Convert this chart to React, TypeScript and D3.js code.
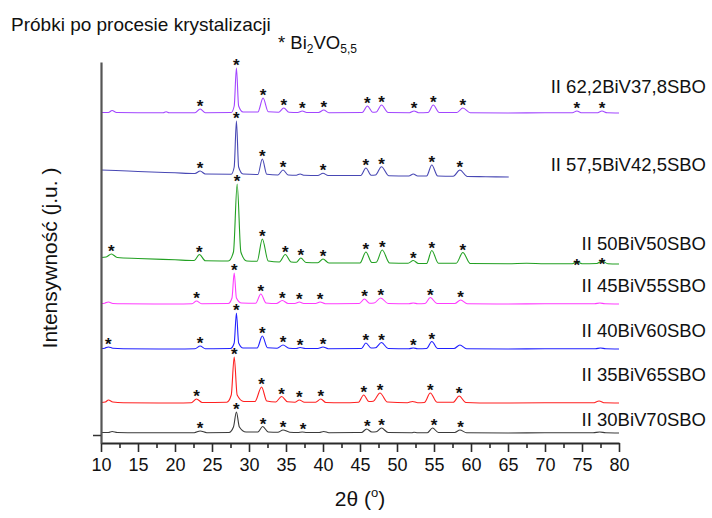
import React, { useEffect, useRef } from "react";
import * as d3 from "d3";

// ---------- data (2θ in degrees, intensity in arbitrary units) ----------
const MAJOR_TICKS = [10, 15, 20, 25, 30, 35, 40, 45, 50, 55, 60, 65, 70, 75, 80];
const MINOR_TICKS = [12.5, 17.5, 22.5, 27.5, 32.5, 37.5, 42.5, 47.5, 52.5, 57.5, 62.5, 67.5, 72.5, 77.5];

const SERIES_LABELS = [
  "II 30BiV70SBO",
  "II 35BiV65SBO",
  "II 40BiV60SBO",
  "II 45BiV55SBO",
  "II 50BiV50SBO",
  "II 57,5BiV42,5SBO",
  "II 62,2BiV37,8SBO",
];
const SERIES_COLORS = ["#3a3a3a", "#ff2020", "#2020ff", "#ff3cff", "#22a022", "#4848b4", "#a246ff"];
const SERIES_OFFSETS = [100, 400, 940, 1390, 1790, 2660, 3300];

const s30: [number, number][] = [
  [10, 5], [11.0, 5], [11.5, 15], [12.2, 5], [15, 3], [20, 3], [22.6, 3], [23.4, 20], [24.3, 3],
  [27.3, 5], [27.9, 60], [28.3, 210], [28.7, 60], [29.6, 10], [31.2, 10], [31.85, 65], [32.6, 10],
  [33.9, 8], [34.6, 30], [35.5, 8], [36.6, 5], [37.2, 10], [37.8, 5], [39.5, 5], [40.1, 15], [40.8, 3],
  [45.2, 5], [45.9, 40], [46.6, 10], [47.2, 12], [47.9, 50], [48.8, 5], [52, 3], [52.3, 8], [52.8, 3],
  [54.1, 3], [54.8, 50], [55.6, 5], [57.8, 5], [58.5, 30], [59.4, 3], [65, 0], [70, 2], [76.5, 2],
  [77.4, 10], [78.2, 2], [80, 0],
];
const s35: [number, number][] = [
  [10, 5], [10.6, 10], [11.0, 30], [11.6, 10], [13, 3], [20, 0], [22.2, 3], [22.9, 40], [23.7, 5],
  [27.0, 8], [27.6, 80], [28.0, 460], [28.4, 80], [29.3, 15], [30.8, 15], [31.7, 160], [32.4, 20],
  [33.6, 10], [34.4, 65], [35.2, 12], [36.2, 8], [36.8, 30], [37.5, 8], [39.0, 8], [39.7, 40], [40.4, 5],
  [42.5, 3], [44.8, 8], [45.5, 80], [46.2, 15], [46.8, 18], [47.7, 100], [48.7, 10], [51.4, 3], [52.1, 15],
  [52.8, 3], [53.7, 5], [54.5, 100], [55.4, 8], [57.6, 8], [58.4, 70], [59.3, 5], [63, 0], [70, 2],
  [76.5, 2], [77.3, 20], [78.1, 2], [80, 0],
];
const s40: [number, number][] = [
  [10, 5], [10.5, 8], [11.0, 20], [11.6, 8], [13, 3], [20, 0], [22.7, 3], [23.4, 30], [24.1, 3],
  [27.5, 5], [28.0, 60], [28.3, 360], [28.6, 60], [29.2, 10], [31.1, 10], [31.8, 130], [32.5, 12],
  [33.8, 8], [34.6, 40], [35.4, 8], [36.4, 5], [36.9, 15], [37.6, 5], [39.3, 5], [40.0, 20], [40.7, 3],
  [45.2, 5], [45.8, 60], [46.5, 10], [47.1, 12], [47.9, 65], [48.8, 5], [51.6, 3], [52.2, 10], [52.8, 3],
  [54.0, 5], [54.7, 75], [55.5, 5], [57.7, 5], [58.5, 40], [59.4, 3], [65, 0], [70, 2], [76.8, 2],
  [77.5, 10], [78.2, 2], [80, 0],
];
const s45: [number, number][] = [
  [10, 5], [10.5, 8], [11.0, 20], [11.6, 5], [13, 2], [20, 0], [22.3, 3], [22.9, 30], [23.6, 3],
  [27.2, 5], [27.7, 60], [28.0, 310], [28.3, 60], [29.0, 10], [30.9, 8], [31.6, 100], [32.3, 10],
  [33.7, 5], [34.5, 35], [35.3, 5], [36.2, 5], [36.8, 20], [37.4, 5], [39.0, 5], [39.6, 20], [40.3, 3],
  [44.9, 5], [45.6, 50], [46.3, 8], [46.9, 10], [47.8, 60], [48.8, 5], [51.6, 2], [52.2, 10], [52.8, 2],
  [53.8, 5], [54.5, 65], [55.4, 5], [57.8, 5], [58.6, 40], [59.5, 3], [65, 0], [70, 2], [76.7, 2],
  [77.4, 10], [78.1, 2], [80, 0],
];
const s50: [number, number][] = [
  [10, 65], [10.7, 70], [11.4, 100], [12.2, 65], [15, 55], [20, 42], [22.6, 35], [23.3, 95], [24.1, 32],
  [27.2, 30], [27.9, 120], [28.4, 800], [28.9, 120], [29.7, 30], [31.1, 28], [31.8, 250], [32.6, 30],
  [34.1, 20], [34.9, 95], [35.7, 20], [36.4, 18], [37.0, 60], [37.7, 15], [39.3, 12], [40.0, 50], [40.8, 10],
  [45.0, 10], [45.8, 120], [46.6, 15], [47.2, 18], [48.0, 140], [49.0, 10], [51.5, 8], [52.2, 35], [52.9, 5],
  [54.0, 5], [54.7, 135], [55.6, 8], [58.0, 8], [58.9, 115], [59.9, 5], [65, 3], [67.5, 8], [70, 3],
  [73.7, 3], [74.3, 20], [75.0, 3], [77.0, 5], [77.7, 30], [78.5, 3], [80, 0],
];
const s575: [number, number][] = [
  [10, 70], [12, 65], [15, 55], [20, 42], [22.7, 35], [23.4, 60], [24.1, 30], [27.6, 28], [28.0, 100],
  [28.3, 560], [28.6, 100], [29.2, 30], [31.2, 25], [31.8, 180], [32.4, 28], [33.9, 20], [34.6, 70],
  [35.3, 20], [36.4, 18], [36.9, 30], [37.5, 17], [39.3, 15], [40.0, 37], [40.7, 15], [45.1, 15],
  [45.8, 90], [46.5, 18], [47.1, 20], [47.9, 103], [48.9, 12], [51.6, 10], [52.2, 30], [52.8, 10],
  [54.0, 10], [54.7, 120], [55.5, 10], [57.6, 8], [58.5, 70], [59.5, 5], [62, 3], [65.1, 0],
];
const s622: [number, number][] = [
  [10, 5], [11.0, 5], [11.5, 25], [12.1, 5], [15, 3], [18.4, 3], [18.8, 12], [19.2, 3], [22.7, 3],
  [23.4, 40], [24.1, 3], [27.6, 5], [28.0, 70], [28.3, 450], [28.6, 70], [29.2, 10], [31.2, 10],
  [31.9, 150], [32.6, 12], [34.0, 8], [34.7, 50], [35.4, 8], [36.6, 5], [37.2, 20], [37.8, 5], [39.4, 5],
  [40.1, 30], [40.8, 3], [45.3, 5], [46.0, 70], [46.7, 8], [47.2, 10], [47.9, 80], [48.8, 5], [51.7, 3],
  [52.3, 20], [52.9, 3], [54.2, 5], [54.9, 80], [55.7, 5], [58.1, 5], [58.9, 50], [59.9, 3], [65, 0],
  [70, 2], [73.7, 2], [74.3, 20], [75.0, 2], [77.0, 2], [77.7, 20], [78.4, 2], [80, 0],
];

// Bi2VO5,5 reflections marked with "*"
const stars30 = [23.4, 28.3, 31.9, 34.6, 37.3, 46.0, 47.9, 55.0, 58.6];
const stars35 = [22.9, 28.0, 31.7, 34.4, 36.8, 39.7, 45.5, 47.7, 54.5, 58.4];
const stars40 = [11.0, 23.4, 28.3, 31.8, 34.6, 36.9, 40.0, 45.8, 47.9, 52.2, 54.7];
const stars45 = [22.9, 28.0, 31.6, 34.5, 36.8, 39.6, 45.6, 47.8, 54.5, 58.6];
const stars50 = [11.4, 23.3, 28.4, 31.8, 34.9, 37.0, 40.0, 45.8, 48.0, 52.2, 54.7, 58.9, 74.3, 77.7];
const stars575 = [23.4, 28.3, 31.8, 34.6, 40.0, 45.8, 47.9, 54.7, 58.5];
const stars622 = [23.4, 28.3, 31.9, 34.7, 37.2, 40.1, 46.0, 47.9, 52.3, 54.9, 58.9, 74.3, 77.7];

const SERIES_DATA = [s30, s35, s40, s45, s50, s575, s622];
const SERIES_STARS = [stars30, stars35, stars40, stars45, stars50, stars575, stars622];

const W = 712;
const H = 518;
const FONT = "'Liberation Sans', Arial, Helvetica, sans-serif";

export default function App() {
  const xAxisRef = useRef<SVGGElement>(null);
  const xMinorRef = useRef<SVGGElement>(null);
  const yAxisRef = useRef<SVGGElement>(null);

  const x = d3.scaleLinear().domain([10, 80]).range([101, 619]);
  const y = d3.scaleLinear().domain([0, 3810]).range([443, 62]);

  useEffect(() => {
    document.body.style.margin = "0";
    const gx = d3.select(xAxisRef.current!);
    gx.call(
      d3.axisBottom(x).tickValues(MAJOR_TICKS).tickSize(9).tickPadding(6).tickSizeOuter(0).tickFormat(d3.format("d"))
    );
    gx.select(".domain").attr("stroke", "#2a2a2a").attr("stroke-width", 2);
    gx.selectAll(".tick line").attr("stroke", "#2a2a2a").attr("stroke-width", 1.6);
    gx.selectAll(".tick text")
      .attr("fill", "#111")
      .style("font-family", FONT)
      .style("font-size", "18px");

    const gm = d3.select(xMinorRef.current!);
    gm.call(d3.axisBottom(x).tickValues(MINOR_TICKS).tickSize(5).tickSizeOuter(0).tickFormat(() => ""));
    gm.select(".domain").remove();
    gm.selectAll(".tick line").attr("stroke", "#2a2a2a").attr("stroke-width", 1.6);

    const gy = d3.select(yAxisRef.current!);
    gy.call(d3.axisLeft(y).tickValues([80]).tickSize(8).tickSizeOuter(0).tickFormat(() => ""));
    gy.select(".domain").attr("stroke", "#555").attr("stroke-width", 2.2);
    gy.selectAll(".tick line").attr("stroke", "#333").attr("stroke-width", 1.5);
  }, []);

  // label placement above each trace's baseline (px)
  const labelDy = [7, 22, 12, 12, 14.5, 6, 20];
  // star gap above the peak top (px); the green far-right stars sit on their peaks
  const starGap = (i: number, s: number) => (i === 4 && s > 70 ? 1.5 : 7);

  return (
    <svg
      width={W}
      height={H}
      style={{ position: "absolute", left: 0, top: 0, background: "#fff", fontFamily: FONT }}
    >
      <rect x={0} y={0} width={W} height={H} fill="#fff" />

      {/* traces */}
      {SERIES_DATA.map((data, i) => {
        const off = SERIES_OFFSETS[i];
        const line = d3
          .line<[number, number]>()
          .x((d) => x(d[0]))
          .y((d) => y(off + d[1]))
          .curve(d3.curveMonotoneX);
        return (
          <path key={"s" + i} d={line(data) || ""} fill="none" stroke={SERIES_COLORS[i]} strokeWidth={1.1} />
        );
      })}

      {/* star markers */}
      {SERIES_STARS.map((stars, i) => {
        const data = SERIES_DATA[i];
        const off = SERIES_OFFSETS[i];
        return stars.map((s, j) => {
          const near = data.filter((d) => Math.abs(d[0] - s) <= 0.45);
          const top = near.length
            ? d3.max(near, (d) => d[1])!
            : data.reduce((a, b) => (Math.abs(b[0] - s) < Math.abs(a[0] - s) ? b : a))[1];
          return (
            <text
              key={`st${i}-${j}`}
              x={x(s)}
              y={y(off + top) - starGap(i, s) + 10}
              textAnchor="middle"
              fontSize={17}
              fontWeight="bold"
              fill="#111"
            >
              *
            </text>
          );
        });
      })}

      {/* series labels */}
      {SERIES_LABELS.map((lab, i) => (
        <text
          key={"l" + i}
          x={706}
          y={y(SERIES_OFFSETS[i]) - labelDy[i]}
          textAnchor="end"
          fontSize={18.5}
          fill="#111"
        >
          {lab}
        </text>
      ))}

      {/* axes */}
      <g ref={xMinorRef} transform={`translate(0,${y(0)})`} />
      <g ref={xAxisRef} transform={`translate(0,${y(0)})`} />
      <g ref={yAxisRef} transform={`translate(${x(10)},0)`} />

      {/* title */}
      <text x={11} y={31} fontSize={19} fill="#111">
        Próbki po procesie krystalizacji
      </text>

      {/* legend */}
      <text x={278} y={49} fontSize={18.5} fill="#111">
        <tspan>* Bi</tspan>
        <tspan fontSize={12} dy={4}>2</tspan>
        <tspan dy={-4}>VO</tspan>
        <tspan fontSize={12} dy={4}>5,5</tspan>
      </text>

      {/* axis titles */}
      <text
        transform={`translate(57,258) rotate(-90)`}
        textAnchor="middle"
        fontSize={21}
        fill="#111"
      >
        Intensywność (j.u. )
      </text>
      <text x={360} y={506} textAnchor="middle" fontSize={21} fill="#111">
        <tspan>2θ (</tspan>
        <tspan fontSize={13} dy={-9}>o</tspan>
        <tspan dy={9}>)</tspan>
      </text>
    </svg>
  );
}
